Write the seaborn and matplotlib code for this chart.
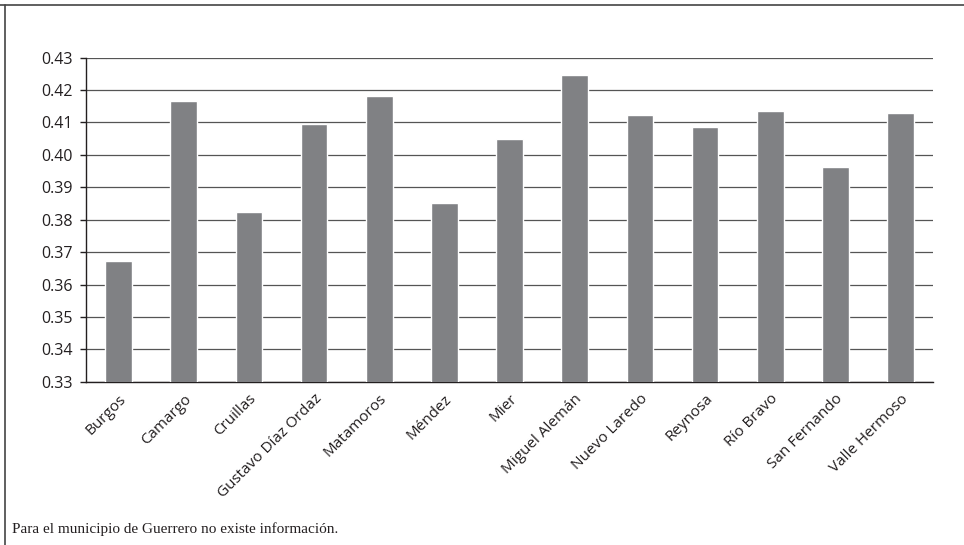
import numpy as np
import pandas as pd
import matplotlib
matplotlib.use('Agg')
import matplotlib.pyplot as plt
from matplotlib.lines import Line2D
import seaborn as sns

# Data
municipios = ['Burgos', 'Camargo', 'Cruillas', 'Gustavo Díaz Ordaz', 'Matamoros',
              'Méndez', 'Mier', 'Miguel Alemán', 'Nuevo Laredo', 'Reynosa',
              'Río Bravo', 'San Fernando', 'Valle Hermoso']
valores = [0.3673, 0.4167, 0.3824, 0.4095, 0.4181, 0.3853, 0.4049,
           0.4245, 0.4122, 0.4086, 0.4135, 0.3963, 0.4129]
y_ticks = [0.33, 0.34, 0.35, 0.36, 0.37, 0.38, 0.39, 0.40, 0.41, 0.42, 0.43]
nota = 'Para el municipio de Guerrero no existe información.'

df = pd.DataFrame({'municipio': municipios, 'valor': valores})

sns.set_style('white')
plt.rcParams['font.family'] = ['Open Sans', 'DejaVu Sans']

fig = plt.figure(figsize=(9.64, 5.45), dpi=100)
ax = fig.add_axes([0.0892, 0.2996, 0.8788, 0.5946])

sns.barplot(data=df, x='municipio', y='valor', color='#808184',
            saturation=1, width=0.41, ax=ax, zorder=3)

ax.set_ylim(0.33, 0.43)
ax.set_yticks(y_ticks)
ax.set_yticklabels([f'{t:.2f}' for t in y_ticks], fontsize=11.5, color='#231f20')
ax.set_xlim(-0.5, len(municipios) - 0.5)
ax.yaxis.grid(True, color='#555555', linewidth=0.9, zorder=0)
ax.set_axisbelow(True)

ax.set_xlabel('')
ax.set_ylabel('')
ax.set_xticks(range(len(municipios)))
ax.set_xticklabels(municipios, rotation=45, ha='right', rotation_mode='anchor',
                   fontsize=11, color='#231f20')
ax.set_xticks(np.arange(-0.5, len(municipios), 1.0), minor=True)
ax.tick_params(axis='x', which='major', length=0, pad=7)
ax.tick_params(axis='x', which='minor', length=4.5, width=1, color='#231f20', direction='out')
ax.tick_params(axis='y', length=4.3, width=1, color='#231f20', direction='out', pad=5, left=True)

for s in ['top', 'right']:
    ax.spines[s].set_visible(False)
for s in ['left', 'bottom']:
    ax.spines[s].set_color('#231f20')
    ax.spines[s].set_linewidth(1.0)

# outer frame (top and left only)
fig.add_artist(Line2D([0, 1], [1 - 5 / 545, 1 - 5 / 545], transform=fig.transFigure,
                      color='#444444', linewidth=1.2))
fig.add_artist(Line2D([5 / 964, 5 / 964], [0, 1 - 5 / 545], transform=fig.transFigure,
                      color='#444444', linewidth=1.2))

fig.text(12 / 964, 1 - 533 / 545, nota, fontsize=11, color='#231f20',
         family=['Liberation Serif', 'DejaVu Serif'], ha='left', va='baseline')

fig.savefig('out.png', dpi=100)
